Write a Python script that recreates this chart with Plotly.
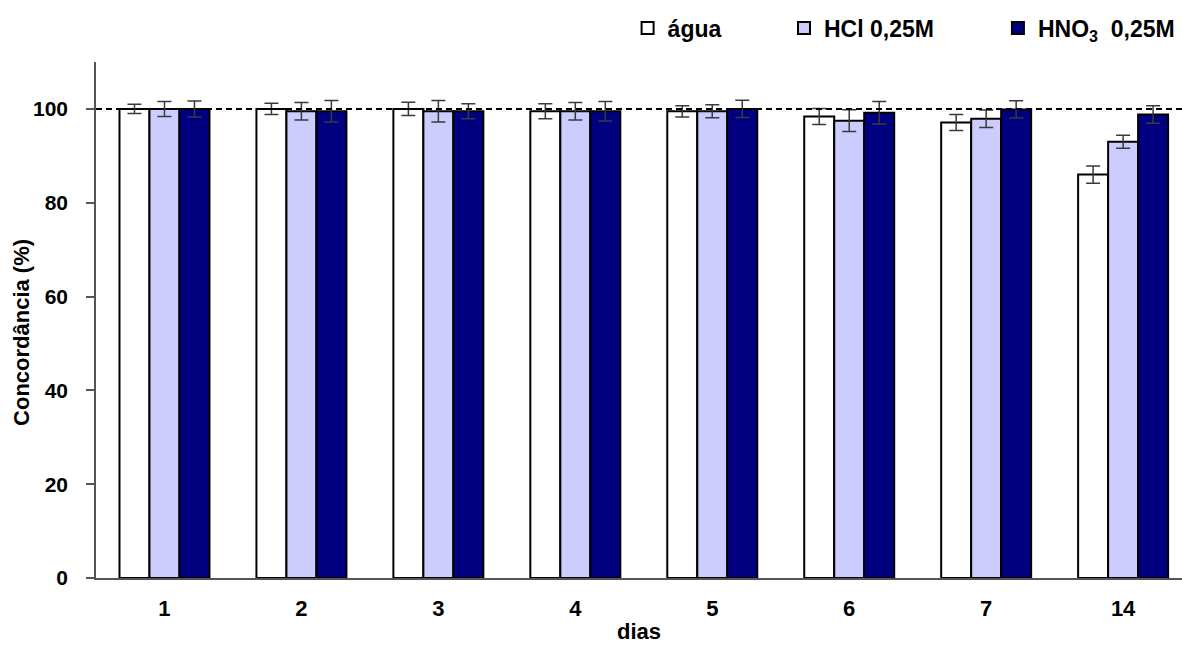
import plotly.graph_objects as go

dias = ["1", "2", "3", "4", "5", "6", "7", "14"]
agua = [100.0, 100.0, 100.0, 99.5, 99.5, 98.4, 97.1, 86.0]
agua_err = [1.0, 1.2, 1.4, 1.6, 1.2, 1.7, 1.7, 1.85]
hcl = [100.0, 99.5, 99.5, 99.5, 99.5, 97.5, 97.9, 93.0]
hcl_err = [1.6, 1.85, 2.3, 1.85, 1.4, 2.3, 1.85, 1.4]
hno3 = [100.0, 99.5, 99.5, 99.5, 100.0, 99.2, 99.9, 98.8]
hno3_err = [1.7, 2.3, 1.6, 2.1, 1.85, 2.4, 1.85, 1.85]

names = ["água", "HCl 0,25M", "HNO<sub>3</sub>  0,25M"]
colors = ["#FFFFFF", "#CCCCFF", "#000080"]
series = [(agua, agua_err), (hcl, hcl_err), (hno3, hno3_err)]
legend_ids = ["legend", "legend2", "legend3"]
legend_x = [0.4895, 0.6335, 0.8305]

FONT = "Liberation Sans, Arial, sans-serif"

fig = go.Figure()
for (vals, errs), name, col, lid in zip(series, names, colors, legend_ids):
    fig.add_trace(go.Bar(
        x=dias, y=vals, name=name, legend=lid,
        marker=dict(color=col, line=dict(color="#000000", width=2)),
        error_y=dict(type="data", array=errs, visible=True,
                     color="#3a3a3a", thickness=1.5, width=7),
    ))

fig.add_shape(type="line", xref="paper", yref="y", x0=0, x1=1, y0=100, y1=100,
              line=dict(color="#000000", width=2, dash="6px,4px"))

fig.add_annotation(text="Concordância (%)", textangle=-90, showarrow=False,
                   xref="paper", yref="paper", x=-0.0681, y=0.475,
                   xanchor="center", yanchor="middle",
                   font=dict(family=FONT, size=22, color="#000000", weight="bold"))

legend_common = dict(orientation="h", yanchor="middle", y=1.066, xanchor="left",
                     font=dict(family=FONT, size=23, color="#000000", weight="bold"),
                     bgcolor="rgba(0,0,0,0)", itemwidth=30)
layout_legends = {}
for lid, lx in zip(legend_ids, legend_x):
    layout_legends[lid] = dict(legend_common, x=lx)

fig.update_layout(
    width=1182, height=646,
    margin=dict(l=96, r=0, t=62, b=68),
    paper_bgcolor="#FFFFFF", plot_bgcolor="#FFFFFF",
    barmode="group", bargap=0.343, bargroupgap=0,
    showlegend=True,
    font=dict(family=FONT, size=21, color="#000000", weight="bold"),
    xaxis=dict(
        type="category", range=[-0.5, 7.43],
        showline=True, linecolor="#555555", linewidth=1.5,
        ticks="", showgrid=False, zeroline=False,
        ticklabelstandoff=10,
        tickfont=dict(family=FONT, size=22, color="#000000", weight="bold"),
        title=dict(text="dias", standoff=3,
                   font=dict(family=FONT, size=22, color="#000000", weight="bold")),
    ),
    yaxis=dict(
        range=[0, 110], tickvals=[0, 20, 40, 60, 80, 100],
        showline=True, linecolor="#555555", linewidth=1.5,
        ticks="outside", ticklen=8, tickcolor="#555555", tickwidth=1.5,
        showgrid=False, zeroline=False,
        ticklabelstandoff=14,
        tickfont=dict(family=FONT, size=21, color="#000000", weight="bold"),
    ),
    **layout_legends,
)

fig.write_html("out.html")
